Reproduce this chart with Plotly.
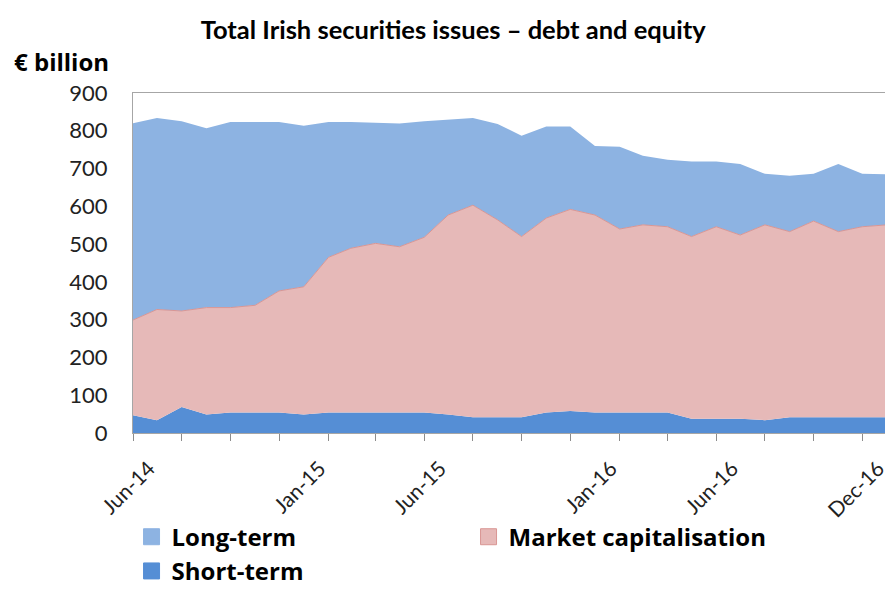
import plotly.graph_objects as go

months = ["2014-06-01", "2014-07-01", "2014-08-01", "2014-09-01", "2014-10-01", "2014-11-01",
          "2014-12-01", "2015-01-01", "2015-02-01", "2015-03-01", "2015-04-01", "2015-05-01",
          "2015-06-01", "2015-07-01", "2015-08-01", "2015-09-01", "2015-10-01", "2015-11-01",
          "2015-12-01", "2016-01-01", "2016-02-01", "2016-03-01", "2016-04-01", "2016-05-01",
          "2016-06-01", "2016-07-01", "2016-08-01", "2016-09-01", "2016-10-01", "2016-11-01",
          "2016-12-01", "2017-01-01"]

short_term = [47, 34, 69, 49, 54, 54, 54, 49, 54, 54, 54, 54, 54, 49, 42, 42,
              42, 54, 58, 54, 54, 54, 54, 38, 38, 38, 34, 42, 42, 42, 42, 42]
market_cap = [252, 293, 254, 283, 278, 284, 322, 338, 411, 435, 448, 439, 464, 528, 561, 522,
              478, 515, 534, 523, 486, 497, 492, 482, 508, 486, 517, 491, 519, 491, 504, 509]
long_term = [521, 507, 502, 475, 491, 485, 447, 426, 358, 334, 319, 326, 307, 252, 231, 254,
             267, 242, 219, 183, 218, 183, 177, 199, 173, 188, 135, 148, 125, 179, 140, 134]

tick_dates = ["2014-06-01", "2015-01-01", "2015-06-01", "2016-01-01", "2016-06-01", "2016-12-01"]
tick_text = ["Jun-14", "Jan-15", "Jun-15", "Jan-16", "Jun-16", "Dec-16"]

font = "Lato"
c_long, c_mcap, c_short = "#8DB3E2", "#E6B9B8", "#558ED5"

fig = go.Figure()

# stacked areas (bottom to top)
fig.add_trace(go.Scatter(
    x=months, y=short_term, name="Short-term", stackgroup="s", showlegend=False,
    mode="lines", line=dict(width=0, color=c_short), fillcolor=c_short,
))
fig.add_trace(go.Scatter(
    x=months, y=market_cap, name="Market capitalisation", stackgroup="s", showlegend=False,
    mode="lines", line=dict(width=1, color="#D99694"), fillcolor=c_mcap,
))
fig.add_trace(go.Scatter(
    x=months, y=long_term, name="Long-term", stackgroup="s", showlegend=False,
    mode="lines", line=dict(width=0, color=c_long), fillcolor=c_long,
))

# legend entries with square swatches
for name, col, edge in [("Long-term", c_long, c_long),
                        ("Market capitalisation", c_mcap, "#D99694"),
                        ("Short-term", c_short, c_short)]:
    fig.add_trace(go.Scatter(
        x=[None], y=[None], name=name, mode="markers",
        marker=dict(symbol="square", size=18, color=col, line=dict(width=1, color=edge)),
    ))

fig.add_annotation(
    text="<b>€ billion</b>", xref="paper", yref="paper", x=-0.16, y=1.094,
    xanchor="left", yanchor="middle", showarrow=False,
    font=dict(family="Open Sans", size=24, color="black"),
)

# page body adds an 8px offset, so the figure is drawn 8px smaller
fig.update_layout(
    width=885, height=581,
    title=dict(text="<b>Total Irish securities issues – debt and equity</b>",
               x=0.503, xanchor="center", y=0.962, yanchor="middle",
               font=dict(family=font, size=25.5, color="black")),
    margin=dict(l=125, r=6, t=85, b=156),
    plot_bgcolor="white", paper_bgcolor="white",
    showlegend=True,
    legend=dict(orientation="h", xref="container", yref="container",
                x=0.1396, y=0.128, xanchor="left", yanchor="top",
                entrywidth=292, itemwidth=30, tracegroupgap=0,
                font=dict(family="Open Sans", size=24, color="black", weight="bold"),
                traceorder="normal"),
    xaxis=dict(
        type="date", range=["2014-06-01", "2017-01-01"], automargin=False,
        tickvals=tick_dates, ticktext=tick_text, tickangle=-45, ticks="",
        ticklabelshift=16, ticklabelstandoff=14, ticklabeloverflow="allow",
        showgrid=False, showline=True, linecolor="#A6A6A6", mirror=True,
        tickfont=dict(family=font, size=21, color="#222"),
        minor=dict(ticks="outside", dtick="M2", tick0="2014-06-01", ticklen=7,
                   tickcolor="#8C8C8C", showgrid=False),
    ),
    yaxis=dict(
        range=[0, 900], dtick=100, showgrid=False, showline=True, automargin=False,
        linecolor="#A6A6A6", mirror=True, ticks="", ticklabelstandoff=20,
        tickfont=dict(family=font, size=22, color="#222"),
    ),
)

fig.write_html("out.html")
